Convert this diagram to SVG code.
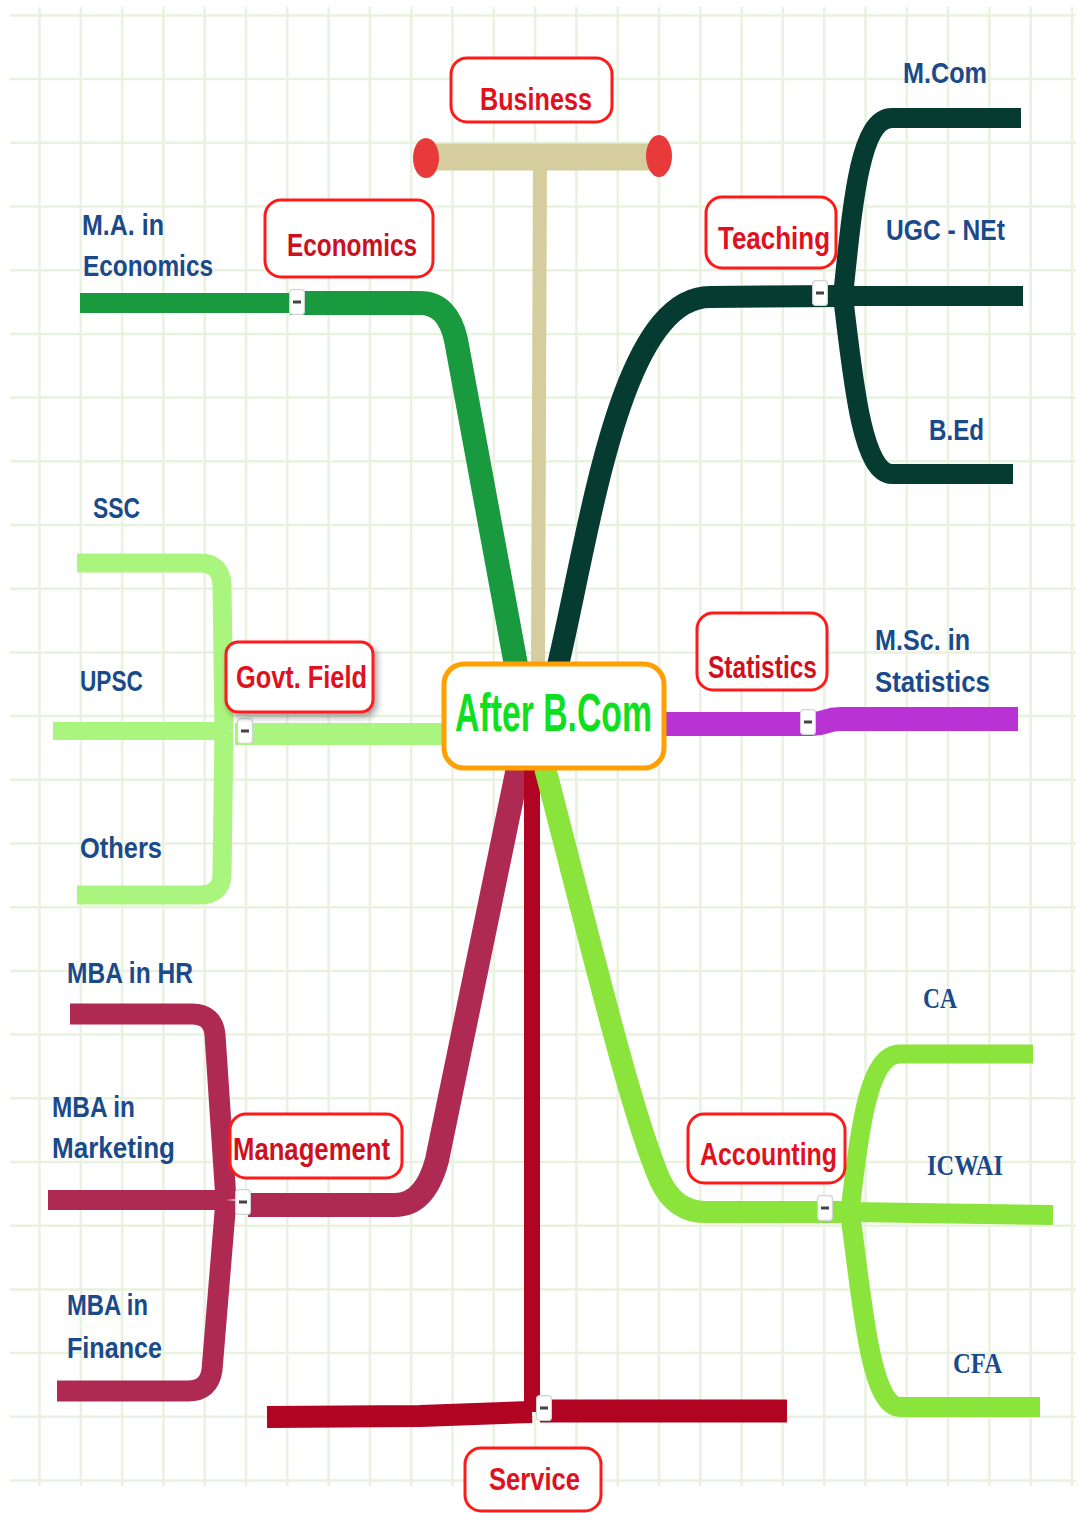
<svg xmlns="http://www.w3.org/2000/svg" width="1083" height="1513" viewBox="0 0 1083 1513">
<defs>
<style>
.grid line{stroke:#e9f1df;stroke-width:2.5}
.cn path{fill:none;stroke-linecap:butt;stroke-linejoin:round}
.eco{stroke:#1a9a3e}
.bus{stroke:#d5cd9e}
.tea{stroke:#063b31}
.gov{stroke:#a9f57e}
.sta{stroke:#b933d4}
.man{stroke:#af2a52}
.ser{stroke:#b00422}
.acc{stroke:#8ae43c}
.btn rect.b{fill:#ffffff;stroke:#cdd5d5;stroke-width:1.2}
.btn rect.d{fill:#444444}
.lbl{fill:#ffffff;stroke:#ff1a1a;stroke-width:3}
.lt{font-family:"Liberation Sans",Arial,sans-serif;font-weight:bold;font-size:32px;fill:#e0101c;lengthAdjust:spacingAndGlyphs}
.bt{font-family:"Liberation Sans",Arial,sans-serif;font-weight:bold;font-size:30px;fill:#1b4a8a}
.bs{font-family:"Liberation Serif","Times New Roman",serif;font-weight:bold;font-size:30px;fill:#1b4a8a}
</style>
<filter id="sh" x="-20%" y="-20%" width="150%" height="160%">
<feDropShadow dx="3" dy="4" stdDeviation="3" flood-color="#000" flood-opacity="0.35"/>
</filter>
<symbol id="btn" viewBox="0 0 16 26" width="16" height="26">
<rect x="0.6" y="0.6" width="14.8" height="24.8" rx="3" fill="#fff" stroke="#cdd5d5" stroke-width="1.2"/>
<rect x="4" y="11.5" width="8" height="3" fill="#444"/>
</symbol>
</defs>
<rect x="0" y="0" width="1083" height="1513" fill="#ffffff"/>
<g class="grid" id="grid">
<line x1="39.5" y1="7" x2="39.5" y2="1486"/><line x1="80.8" y1="7" x2="80.8" y2="1486"/><line x1="122.1" y1="7" x2="122.1" y2="1486"/><line x1="163.4" y1="7" x2="163.4" y2="1486"/><line x1="204.7" y1="7" x2="204.7" y2="1486"/><line x1="246" y1="7" x2="246" y2="1486"/><line x1="287.3" y1="7" x2="287.3" y2="1486"/><line x1="328.6" y1="7" x2="328.6" y2="1486"/><line x1="369.9" y1="7" x2="369.9" y2="1486"/><line x1="411.2" y1="7" x2="411.2" y2="1486"/><line x1="452.5" y1="7" x2="452.5" y2="1486"/><line x1="493.8" y1="7" x2="493.8" y2="1486"/><line x1="535.1" y1="7" x2="535.1" y2="1486"/><line x1="576.4" y1="7" x2="576.4" y2="1486"/><line x1="617.7" y1="7" x2="617.7" y2="1486"/><line x1="659" y1="7" x2="659" y2="1486"/><line x1="700.3" y1="7" x2="700.3" y2="1486"/><line x1="741.6" y1="7" x2="741.6" y2="1486"/><line x1="782.9" y1="7" x2="782.9" y2="1486"/><line x1="824.2" y1="7" x2="824.2" y2="1486"/><line x1="865.5" y1="7" x2="865.5" y2="1486"/><line x1="906.8" y1="7" x2="906.8" y2="1486"/><line x1="948.1" y1="7" x2="948.1" y2="1486"/><line x1="989.4" y1="7" x2="989.4" y2="1486"/><line x1="1030.7" y1="7" x2="1030.7" y2="1486"/><line x1="1072" y1="7" x2="1072" y2="1486"/>
<line x1="10" y1="15.4" x2="1076" y2="15.4"/><line x1="10" y1="79.1" x2="1076" y2="79.1"/><line x1="10" y1="142.8" x2="1076" y2="142.8"/><line x1="10" y1="206.5" x2="1076" y2="206.5"/><line x1="10" y1="270.2" x2="1076" y2="270.2"/><line x1="10" y1="333.9" x2="1076" y2="333.9"/><line x1="10" y1="397.6" x2="1076" y2="397.6"/><line x1="10" y1="461.3" x2="1076" y2="461.3"/><line x1="10" y1="525" x2="1076" y2="525"/><line x1="10" y1="588.7" x2="1076" y2="588.7"/><line x1="10" y1="652.4" x2="1076" y2="652.4"/><line x1="10" y1="716.1" x2="1076" y2="716.1"/><line x1="10" y1="779.8" x2="1076" y2="779.8"/><line x1="10" y1="843.5" x2="1076" y2="843.5"/><line x1="10" y1="907.2" x2="1076" y2="907.2"/><line x1="10" y1="970.9" x2="1076" y2="970.9"/><line x1="10" y1="1034.6" x2="1076" y2="1034.6"/><line x1="10" y1="1098.3" x2="1076" y2="1098.3"/><line x1="10" y1="1162" x2="1076" y2="1162"/><line x1="10" y1="1225.7" x2="1076" y2="1225.7"/><line x1="10" y1="1289.4" x2="1076" y2="1289.4"/><line x1="10" y1="1353.1" x2="1076" y2="1353.1"/><line x1="10" y1="1416.8" x2="1076" y2="1416.8"/><line x1="10" y1="1480.5" x2="1076" y2="1480.5"/>
</g>
<g class="cn" id="connectors">
<path class="bus" d="M538 665 L540 158" stroke-width="14"/>
<path class="bus" d="M426 157 L658 157" stroke-width="27"/>
<ellipse cx="426" cy="158" rx="13" ry="20" fill="#e83a3a"/>
<ellipse cx="659" cy="156" rx="13" ry="21" fill="#e83a3a"/>
<path class="eco" d="M80 303 L292 303" stroke-width="20"/>
<path class="eco" d="M290 303 L420 303 Q448 303 456 340 L516 665" stroke-width="24"/>
<path class="tea" d="M558 665 C590 530 620 297 710 297 L845 296" stroke-width="22"/>
<path class="tea" d="M843 296 C853 200 860 118 892 118 L1021 118" stroke-width="20"/>
<path class="tea" d="M843 296 L1023 296" stroke-width="20"/>
<path class="tea" d="M843 296 C853 380 862 474 892 474 L1013 474" stroke-width="20"/>
<path class="gov" d="M445 734 L235 734" stroke-width="22"/>
<path class="gov" d="M226 731 L53 731" stroke-width="18"/>
<path class="gov" d="M224 731 L222 585 Q221 563 200 563 L77 563" stroke-width="19"/>
<path class="gov" d="M224 731 L222 875 Q221 895 200 895 L77 895" stroke-width="19"/>
<path class="sta" d="M662 724 L812 724 C825 724 826 719 840 719 L1018 719" stroke-width="24"/>
<path class="man" d="M518 768 L437 1160 Q425 1205 395 1205 L248 1205" stroke-width="24"/>
<path class="man" d="M226 1200 L48 1200" stroke-width="20"/>
<path class="man" d="M226 1200 L215 1035 Q213 1014 192 1014 L70 1014" stroke-width="21"/>
<path class="man" d="M226 1200 L212 1370 Q209 1391 188 1391 L57 1391" stroke-width="21"/>
<path class="ser" d="M532 768 L532 1412" stroke-width="16"/>
<path class="ser" d="M267 1417 L420 1416 L532 1412" stroke-width="22"/>
<path class="ser" d="M540 1411 L787 1411" stroke-width="23"/>
<path class="acc" d="M545 768 C590 940 630 1110 660 1180 Q675 1212 705 1212 L850 1212" stroke-width="22"/>
<path class="acc" d="M850 1212 C860 1120 870 1054 900 1054 L1033 1054" stroke-width="19"/>
<path class="acc" d="M850 1212 L1053 1215" stroke-width="20"/>
<path class="acc" d="M850 1212 C862 1300 870 1407 900 1407 L1040 1407" stroke-width="20"/>
<use href="#btn" x="289" y="289"/>
<use href="#btn" x="812" y="280"/>
<use href="#btn" x="237" y="718"/>
<use href="#btn" x="800" y="709"/>
<use href="#btn" x="235" y="1189"/>
<use href="#btn" x="536" y="1395"/>
<use href="#btn" x="817" y="1195"/>
</g>
<g id="center">
<rect x="444" y="664" width="220" height="104" rx="20" fill="#ffffff" stroke="#ffa000" stroke-width="5"/>
<text x="455" y="731" font-family="Liberation Sans, Arial, sans-serif" font-weight="bold" font-size="54" fill="#0ee020" textLength="197" lengthAdjust="spacingAndGlyphs">After B.Com</text>
</g>
<g id="business">
<rect class="lbl" x="451" y="58" width="161" height="64" rx="16"/>
<text class="lt" x="480" y="110" textLength="112" lengthAdjust="spacingAndGlyphs">Business</text>
</g>
<g id="economics">
<rect class="lbl" x="265" y="200" width="168" height="77" rx="16"/>
<text class="lt" x="287" y="256" textLength="130" lengthAdjust="spacingAndGlyphs" fill="#cc1020" style="fill:#cc1020">Economics</text>
</g>
<g id="teaching">
<rect class="lbl" x="706" y="197" width="130" height="71" rx="16"/>
<text class="lt" x="718" y="249" textLength="112" lengthAdjust="spacingAndGlyphs">Teaching</text>
</g>
<g id="govt">
<rect class="lbl" x="226" y="642" width="147" height="70" rx="12" filter="url(#sh)"/>
<text class="lt" x="236" y="688" textLength="131" lengthAdjust="spacingAndGlyphs">Govt. Field</text>
</g>
<g id="statistics">
<rect class="lbl" x="697" y="613" width="130" height="77" rx="16"/>
<text class="lt" x="708" y="678" textLength="109" lengthAdjust="spacingAndGlyphs" style="fill:#d0101e">Statistics</text>
</g>
<g id="management">
<rect class="lbl" x="230" y="1114" width="172" height="64" rx="16"/>
<text class="lt" x="233" y="1160" textLength="157" lengthAdjust="spacingAndGlyphs" style="fill:#d0101e">Management</text>
</g>
<g id="accounting">
<rect class="lbl" x="688" y="1114" width="157" height="69" rx="16"/>
<text class="lt" x="700" y="1165" textLength="137" lengthAdjust="spacingAndGlyphs">Accounting</text>
</g>
<g id="service">
<rect class="lbl" x="465" y="1448" width="136" height="63" rx="16"/>
<text class="lt" x="489" y="1490" textLength="91" lengthAdjust="spacingAndGlyphs">Service</text>
</g>
<g id="ma-economics">
<text class="bt" x="82" y="235" textLength="82" lengthAdjust="spacingAndGlyphs">M.A. in</text>
<text class="bt" x="83" y="276" textLength="130" lengthAdjust="spacingAndGlyphs">Economics</text>
</g>
<g id="mcom"><text class="bt" x="903" y="83" textLength="84" lengthAdjust="spacingAndGlyphs">M.Com</text></g>
<g id="ugc"><text class="bt" x="886" y="240" textLength="119" lengthAdjust="spacingAndGlyphs">UGC - NEt</text></g>
<g id="bed"><text class="bt" x="929" y="440" textLength="55" lengthAdjust="spacingAndGlyphs">B.Ed</text></g>
<g id="ssc"><text class="bt" x="93" y="518" textLength="47" lengthAdjust="spacingAndGlyphs">SSC</text></g>
<g id="upsc"><text class="bt" x="80" y="691" textLength="63" lengthAdjust="spacingAndGlyphs">UPSC</text></g>
<g id="others"><text class="bt" x="80" y="858" textLength="82" lengthAdjust="spacingAndGlyphs">Others</text></g>
<g id="msc">
<text class="bt" x="875" y="650" textLength="95" lengthAdjust="spacingAndGlyphs">M.Sc. in</text>
<text class="bt" x="875" y="692" textLength="115" lengthAdjust="spacingAndGlyphs">Statistics</text>
</g>
<g id="mba-hr"><text class="bt" x="67" y="983" textLength="126" lengthAdjust="spacingAndGlyphs">MBA in HR</text></g>
<g id="mba-mkt">
<text class="bt" x="52" y="1117" textLength="83" lengthAdjust="spacingAndGlyphs">MBA in</text>
<text class="bt" x="52" y="1158" textLength="123" lengthAdjust="spacingAndGlyphs">Marketing</text>
</g>
<g id="mba-fin">
<text class="bt" x="67" y="1315" textLength="81" lengthAdjust="spacingAndGlyphs">MBA in</text>
<text class="bt" x="67" y="1358" textLength="95" lengthAdjust="spacingAndGlyphs">Finance</text>
</g>
<g id="ca"><text class="bs" x="923" y="1008" textLength="34" lengthAdjust="spacingAndGlyphs">CA</text></g>
<g id="icwai"><text class="bs" x="927" y="1175" textLength="76" lengthAdjust="spacingAndGlyphs">ICWAI</text></g>
<g id="cfa"><text class="bs" x="953" y="1373" textLength="49" lengthAdjust="spacingAndGlyphs">CFA</text></g>
</svg>
